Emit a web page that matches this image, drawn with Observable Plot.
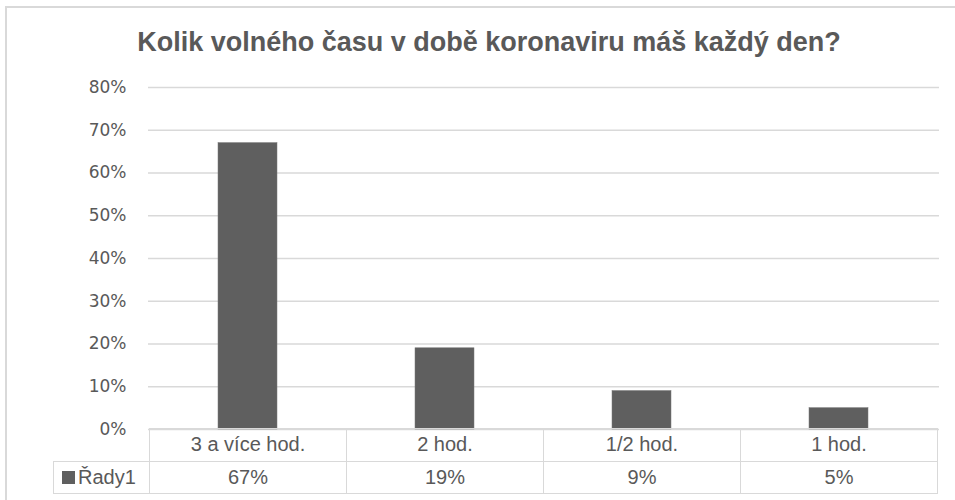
<!DOCTYPE html>
<html>
<head>
<meta charset="utf-8">
<script src="https://cdn.jsdelivr.net/npm/d3@7"></script>
<script src="https://cdn.jsdelivr.net/npm/@observablehq/plot@0.6"></script>
<style>
  html, body { margin: 0; padding: 0; background: #fff; }
  #wrap { position: relative; width: 955px; height: 500px; overflow: hidden; background: #fff; }
  #frame { position: absolute; left: 5px; top: 6px; right: -10px; bottom: -10px; border-top: 2px solid #d9d9d9; border-left: 2px solid #d9d9d9; }
  #title { position: absolute; left: 0; width: 978px; top: 27px; text-align: center; font-family: "Liberation Sans Narrow", "Liberation Sans", sans-serif; font-weight: bold; font-size: 27px; color: #595959; }
  #chart { position: absolute; left: 0; top: 70px; }
  #table { position: absolute; left: 0; top: 0; width: 955px; height: 500px; pointer-events: none; }
  .cell { position: absolute; box-sizing: border-box; border: 1.5px solid #d9d9d9; display: flex; align-items: center; justify-content: center; font-family: "Liberation Sans Narrow", "Liberation Sans", sans-serif; font-size: 20px; color: #595959; }
  .cell.legend { justify-content: flex-start; padding-left: 8px; }
</style>
</head>
<body>
<div id="wrap">
  <div id="frame"></div>
  <div id="title"></div>
  <div id="chart"></div>
  <div id="table"></div>
</div>
<script>
const titleText = "Kolik volného času v době koronaviru máš každý den?";
const categories = ["3 a více hod.", "2 hod.", "1/2 hod.", "1 hod."];
const values = [0.67, 0.19, 0.09, 0.05];
const valueLabels = ["67%", "19%", "9%", "5%"];
const seriesName = "Řady1";
const yTicks = [0, 0.1, 0.2, 0.3, 0.4, 0.5, 0.6, 0.7, 0.8];

const data = categories.map((c, i) => ({cat: c, val: values[i]}));
document.getElementById("title").textContent = titleText;

const svgTop = 70;
const chart = Plot.plot({
  width: 955,
  height: 372,
  marginLeft: 148,
  marginRight: 16,
  marginTop: 17,
  marginBottom: 13,
  style: {color: "#595959", fontFamily: "'DejaVu Sans', sans-serif", fontSize: "17px", background: "transparent"},
  x: {domain: categories, paddingInner: 0.7, paddingOuter: 0.35, axis: null},
  y: {domain: [0, 0.8], axis: null},
  marks: [
    Plot.gridY(yTicks, {stroke: "#d9d9d9", strokeOpacity: 1, strokeWidth: 1.5}),
    Plot.axisY(yTicks, {tickSize: 0, tickPadding: 22, tickFormat: d => Math.round(d * 100) + "%", label: null, fill: "#595959", fontSize: 17}),
    Plot.barY(data, {x: "cat", y: "val", fill: "#5f5f5f", stroke: "#7a7a7a", strokeWidth: 0.5})
  ]
});
document.getElementById("chart").appendChild(chart);

// Data table below the plot, aligned with the x band scale
const xs = chart.scale("x");
const ys = chart.scale("y");
const step = xs.step;
const gap = (step - xs.bandwidth) / 2;
const tableTop = svgTop + ys.apply(0) - 1;
const rowH = 32.5;
const table = document.getElementById("table");
function cell(left, top, w, h, html, cls) {
  const d = document.createElement("div");
  d.className = "cell" + (cls ? " " + cls : "");
  d.style.left = left + "px";
  d.style.top = top + "px";
  d.style.width = w + "px";
  d.style.height = h + "px";
  d.innerHTML = html;
  table.appendChild(d);
}
categories.forEach((c, i) => {
  const left = xs.apply(c) - gap;
  cell(left, tableTop, step + 1, rowH + 1, c);
  cell(left, tableTop + rowH, step + 1, rowH + 1, valueLabels[i]);
});
const firstLeft = xs.apply(categories[0]) - gap;
cell(53, tableTop + rowH, firstLeft - 53 + 1, rowH + 1,
  '<span style="display:inline-block;width:13px;height:13px;background:#5f5f5f;margin-right:3px"></span>' + seriesName, "legend");
</script>
</body>
</html>
